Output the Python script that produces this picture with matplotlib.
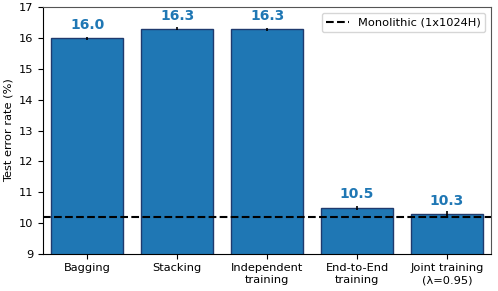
import numpy as np
import matplotlib
matplotlib.use("Agg")
import matplotlib.pyplot as plt

methods = ["Bagging", "Stacking", "Independent\ntraining", "End-to-End\ntraining",
           "Joint training\n(\u03bb=0.95)"]
error_rate = [16.0, 16.3, 16.28, 10.5, 10.3]
error_std = [0.05, 0.05, 0.04, 0.065, 0.08]
monolithic = 10.2

plt.rcParams["font.size"] = 8.2

fig, ax = plt.subplots(figsize=(4.98, 2.91), dpi=100)
x = np.arange(len(methods))
ax.bar(x, error_rate, width=0.8, color="#1f77b4", edgecolor="#1f3a6e", linewidth=1,
       yerr=error_std, error_kw=dict(ecolor="black", elinewidth=1.2, capsize=0))
ax.axhline(monolithic, color="black", linestyle="--", linewidth=1.5,
           label="Monolithic (1x1024H)")

for xi, v in zip(x, error_rate):
    ax.text(xi, v + 0.2, f"{v:.1f}", ha="center", va="bottom", color="#1f77b4",
            fontweight="bold", fontsize=10)

ax.set_ylim(9, 17)
ax.set_xlim(-0.49, 4.49)
ax.set_xticks(x)
ax.set_xticklabels(methods)
ax.set_ylabel("Test error rate (%)")
for s in ["top", "right"]:
    ax.spines[s].set_color("#555555")
ax.legend(loc="upper right")

plt.subplots_adjust(left=0.087, right=0.986, top=0.975, bottom=0.128)
fig.savefig("out.png")
